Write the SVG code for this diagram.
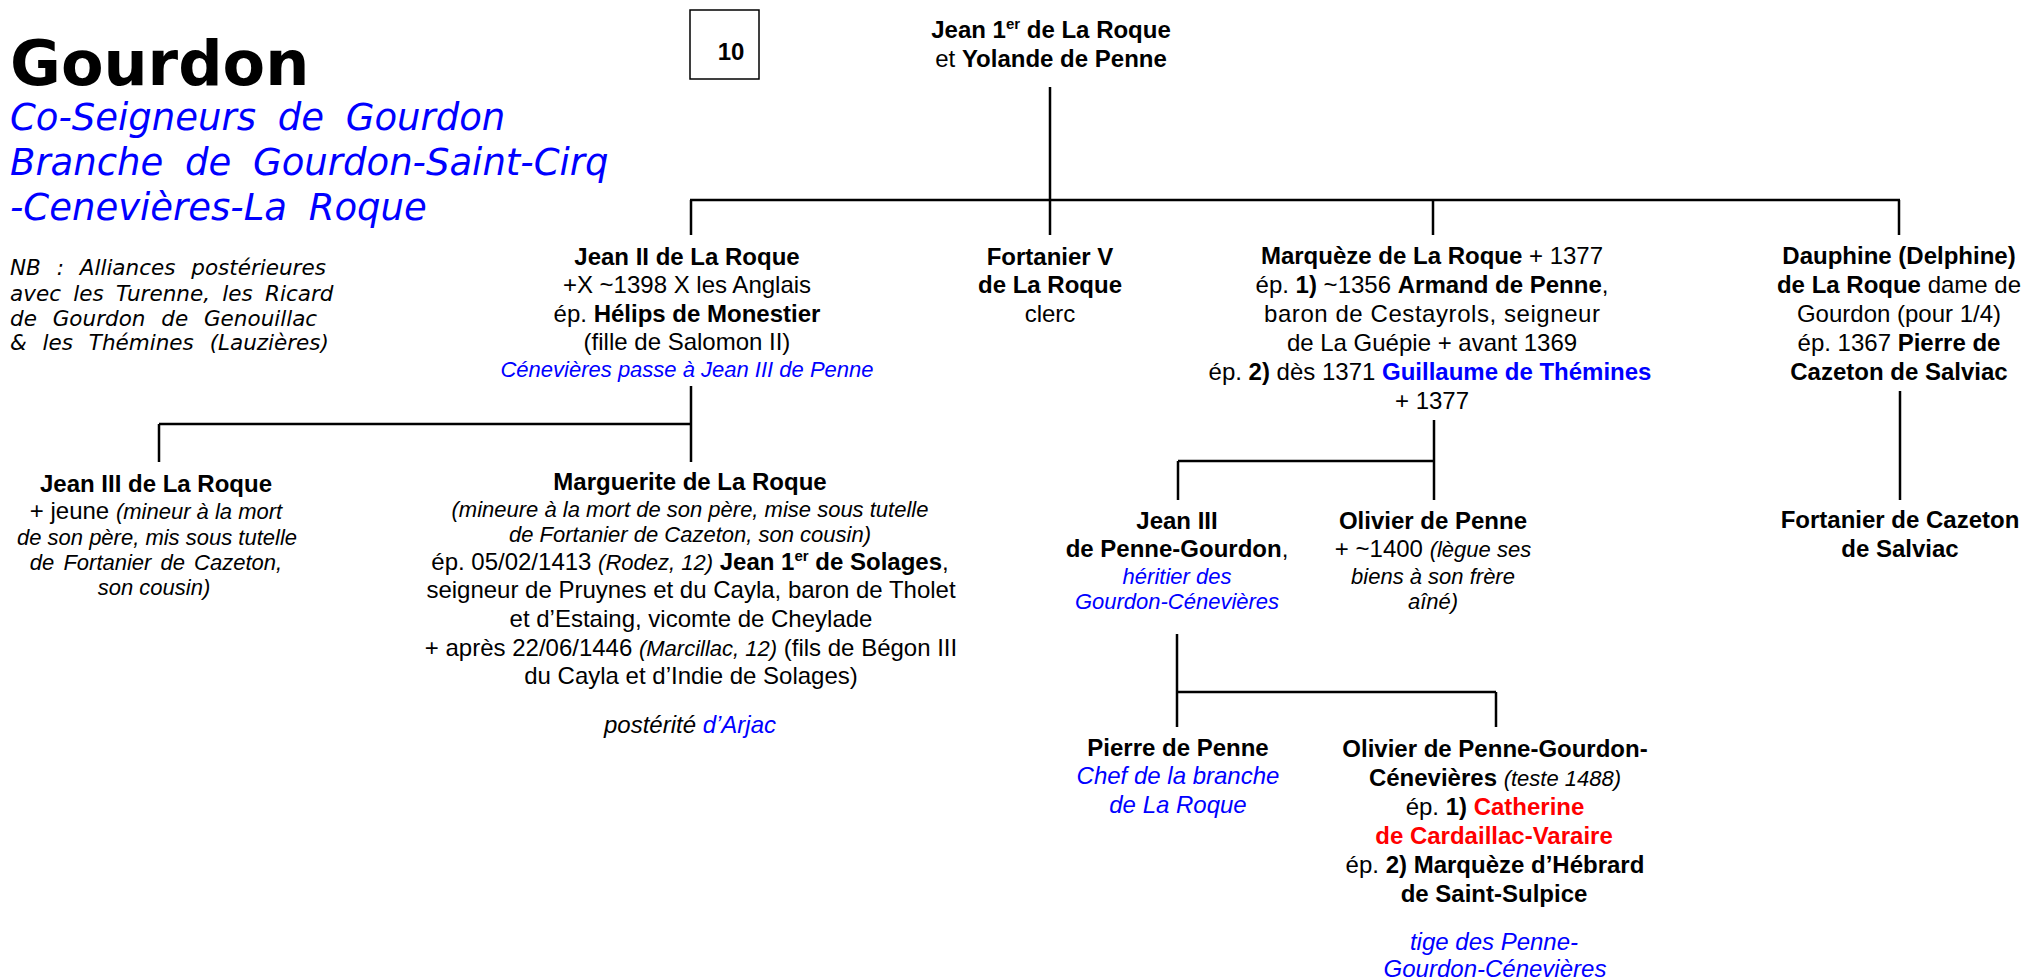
<svg xmlns="http://www.w3.org/2000/svg" width="2028" height="980" viewBox="0 0 2028 980">
<style>
.t{font-family:"Liberation Sans",Arial,sans-serif;font-size:24px;text-anchor:middle;fill:#000}
.b{font-weight:bold}
.i{font-style:italic;font-size:22px}
.i24{font-style:italic;font-size:24px}
.bl{fill:#0000FF}
.rd{fill:#FF0000}
.v{font-family:"DejaVu Sans",Verdana,sans-serif}
.sub{font-size:37px;font-style:oblique;word-spacing:10px}
.ln{stroke:#000;stroke-width:2.5;fill:none}
</style>
<rect width="2028" height="980" fill="#fff"/>
<g id="title">
<text class="v" x="10" y="85" font-size="62" font-weight="bold">Gourdon</text>
<text class="v bl sub" x="10" y="130">Co-Seigneurs de Gourdon</text>
<text class="v bl sub" x="10" y="175">Branche de Gourdon-Saint-Cirq</text>
<text class="v bl sub" x="10" y="220">-Cenevières-La Roque</text>
</g>
<g id="note" class="v" font-size="21.5" font-style="oblique">
<text x="10" y="275" word-spacing="9">NB : Alliances postérieures</text>
<text x="10" y="301" word-spacing="5.5">avec les Turenne, les Ricard</text>
<text x="10" y="326" word-spacing="9">de Gourdon de Genouillac</text>
<text x="10" y="350" word-spacing="9">&amp; les Thémines (Lauzières)</text>
</g>
<g id="plate">
<rect x="690" y="10" width="69" height="69" fill="none" stroke="#000" stroke-width="1.5"/>
<text class="t b" x="731" y="60" font-size="27">10</text>
</g>
<g id="connectors" class="ln">
<path d="M1050,87V200M690,200H1900M691,200V235M1050,200V235M1433,200V235M1899,200V235"/>
<path d="M691,386V424M159,424H691M159,424V462M691,424V462"/>
<path d="M1434,420V500M1178,461H1434M1178,461V500"/>
<path d="M1177,634V727M1177,692H1496M1496,692V727"/>
<path d="M1900,391V500"/>
</g>
<g id="n-jean1">
<text class="t b" x="1051" y="38">Jean 1<tspan font-size="15" dy="-9">er</tspan><tspan dy="9"> de La Roque</tspan></text>
<text class="t" x="1051" y="67">et <tspan class="b">Yolande de Penne</tspan></text>
</g>
<g id="n-jean2">
<text class="t b" x="687" y="265">Jean II de La Roque</text>
<text class="t" x="687" y="293">+X ~1398 X les Anglais</text>
<text class="t" x="687" y="322">ép. <tspan class="b">Hélips de Monestier</tspan></text>
<text class="t" x="687" y="350">(fille de Salomon II)</text>
<text class="t i bl" x="687" y="377">Cénevières passe à Jean III de Penne</text>
</g>
<g id="n-fortanier5">
<text class="t b" x="1050" y="265">Fortanier V</text>
<text class="t b" x="1050" y="293">de La Roque</text>
<text class="t" x="1050" y="322">clerc</text>
</g>
<g id="n-marqueze">
<text class="t" x="1432" y="264"><tspan class="b">Marquèze de La Roque</tspan> + 1377</text>
<text class="t" x="1432" y="293">ép. <tspan class="b">1)</tspan> ~1356 <tspan class="b">Armand de Penne</tspan>,</text>
<text class="t" x="1432" y="322" textLength="336" lengthAdjust="spacing">baron de Cestayrols, seigneur</text>
<text class="t" x="1432" y="351">de La Guépie + avant 1369</text>
<text class="t" x="1430" y="380">ép. <tspan class="b">2)</tspan> dès 1371 <tspan class="b bl">Guillaume de Thémines</tspan></text>
<text class="t" x="1432" y="409">+ 1377</text>
</g>
<g id="n-dauphine">
<text class="t b" x="1899" y="264">Dauphine (Delphine)</text>
<text class="t" x="1899" y="293"><tspan class="b">de La Roque</tspan> dame de</text>
<text class="t" x="1899" y="322">Gourdon (pour 1/4)</text>
<text class="t" x="1899" y="351">ép. 1367 <tspan class="b">Pierre de</tspan></text>
<text class="t b" x="1899" y="380">Cazeton de Salviac</text>
</g>
<g id="n-fortanier-cazeton">
<text class="t b" x="1900" y="528">Fortanier de Cazeton</text>
<text class="t b" x="1900" y="557">de Salviac</text>
</g>
<g id="n-jean3-roque">
<text class="t b" x="156" y="492">Jean III de La Roque</text>
<text class="t" x="156" y="519">+ jeune <tspan class="i">(mineur à la mort</tspan></text>
<text class="t i" x="157" y="545">de son père, mis sous tutelle</text>
<text class="t i" x="156" y="570" word-spacing="3">de Fortanier de Cazeton,</text>
<text class="t i" x="154" y="595">son cousin)</text>
</g>
<g id="n-marguerite">
<text class="t b" x="690" y="490">Marguerite de La Roque</text>
<text class="t i" x="690" y="517">(mineure à la mort de son père, mise sous tutelle</text>
<text class="t i" x="690" y="542">de Fortanier de Cazeton, son cousin)</text>
<text class="t" x="690" y="570">ép. 05/02/1413 <tspan class="i">(Rodez, 12)</tspan> <tspan class="b">Jean 1</tspan><tspan class="b" font-size="15" dy="-9">er</tspan><tspan class="b" dy="9"> de Solages</tspan>,</text>
<text class="t" x="691" y="598">seigneur de Pruynes et du Cayla, baron de Tholet</text>
<text class="t" x="691" y="627">et d’Estaing, vicomte de Cheylade</text>
<text class="t" x="691" y="656">+ après 22/06/1446 <tspan class="i">(Marcillac, 12)</tspan> (fils de Bégon III</text>
<text class="t" x="691" y="684">du Cayla et d’Indie de Solages)</text>
<text class="t i24" x="690" y="733">postérité <tspan class="bl">d’Arjac</tspan></text>
</g>
<g id="n-jean3-penne">
<text class="t b" x="1177" y="529">Jean III</text>
<text class="t" x="1177" y="557"><tspan class="b">de Penne-Gourdon</tspan>,</text>
<text class="t i bl" x="1177" y="584">héritier des</text>
<text class="t i bl" x="1177" y="609">Gourdon-Cénevières</text>
</g>
<g id="n-olivier">
<text class="t b" x="1433" y="529">Olivier de Penne</text>
<text class="t" x="1433" y="557">+ ~1400 <tspan class="i">(lègue ses</tspan></text>
<text class="t i" x="1433" y="584">biens à son frère</text>
<text class="t i" x="1433" y="609">aîné)</text>
</g>
<g id="n-pierre">
<text class="t b" x="1178" y="756">Pierre de Penne</text>
<text class="t i24 bl" x="1178" y="784">Chef de la branche</text>
<text class="t i24 bl" x="1178" y="813">de La Roque</text>
</g>
<g id="n-olivier-pgc">
<text class="t b" x="1495" y="757">Olivier de Penne-Gourdon-</text>
<text class="t" x="1495" y="786"><tspan class="b">Cénevières</tspan> <tspan class="i">(teste 1488)</tspan></text>
<text class="t" x="1495" y="815">ép. <tspan class="b">1)</tspan> <tspan class="b rd">Catherine</tspan></text>
<text class="t b rd" x="1494" y="844">de Cardaillac-Varaire</text>
<text class="t" x="1495" y="873">ép. <tspan class="b">2) Marquèze d’Hébrard</tspan></text>
<text class="t b" x="1494" y="902">de Saint-Sulpice</text>
<text class="t i24 bl" x="1494" y="950">tige des Penne-</text>
<text class="t i24 bl" x="1495" y="977">Gourdon-Cénevières</text>
</g>
</svg>
